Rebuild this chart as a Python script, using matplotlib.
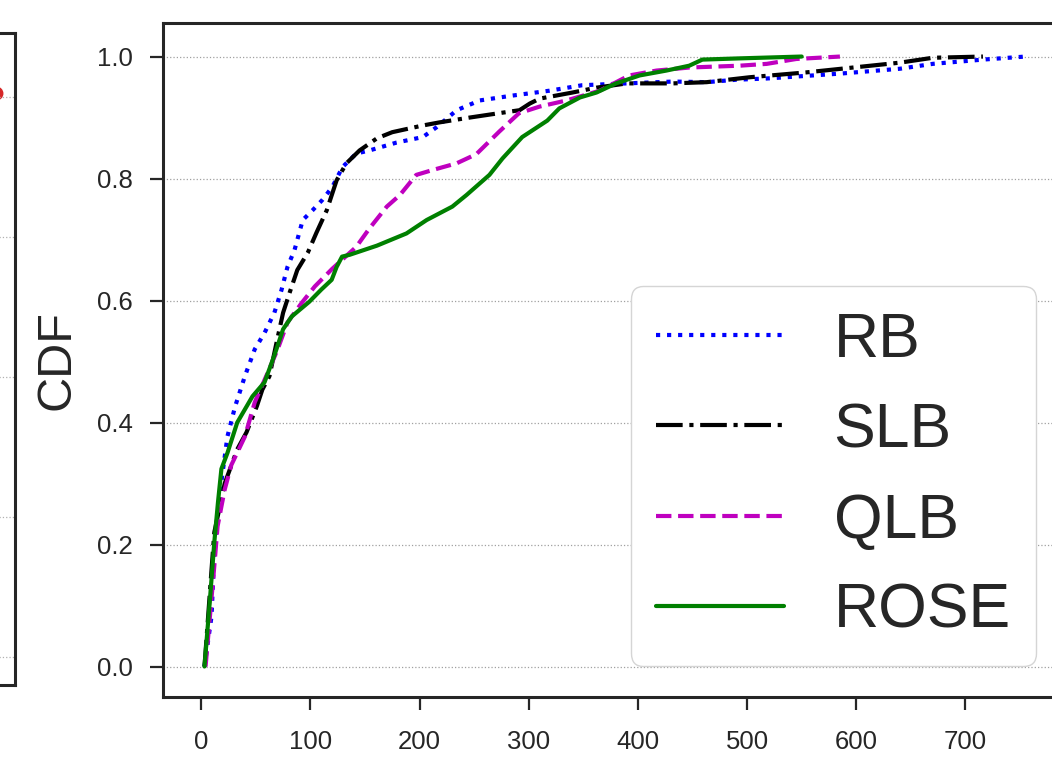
import matplotlib
matplotlib.use("Agg")
import matplotlib.pyplot as plt

plt.rcParams['font.family'] = ['Liberation Sans', 'DejaVu Sans']
plt.rcParams['lines.solid_capstyle'] = 'round'

# ---- data ----
rb_x = [3, 9.5, 12, 19, 24, 31, 40, 49, 58, 67, 73.5, 79, 85.5, 93, 102, 111, 120, 129.5,
        142, 154, 179, 203, 215.5, 234, 255, 285, 319, 349, 390, 432, 463, 490, 518, 585,
        640, 670, 716, 755]
rb_y = [0, 0.083, 0.19, 0.31, 0.377, 0.426, 0.476, 0.52, 0.547, 0.58, 0.617, 0.655, 0.683,
        0.732, 0.748, 0.765, 0.786, 0.819, 0.841, 0.846, 0.859, 0.868, 0.884, 0.912, 0.928,
        0.936, 0.944, 0.953, 0.956, 0.959, 0.958, 0.962, 0.964, 0.972, 0.98, 0.988, 0.995, 1.0]

slb_x = [3, 9.5, 12, 21.5, 33, 41.5, 51, 56, 62.5, 69, 75, 81, 88, 97.5, 105.5, 115, 124,
         133, 145, 161, 175, 203, 218, 246, 276, 291.5, 301, 310, 340, 362, 390, 432, 463,
         502, 554, 597, 640, 670, 716]
slb_y = [0, 0.16, 0.22, 0.30, 0.356, 0.384, 0.427, 0.454, 0.476, 0.531, 0.58, 0.613, 0.65,
         0.678, 0.711, 0.748, 0.797, 0.825, 0.846, 0.866, 0.876, 0.887, 0.892, 0.9, 0.908,
         0.912, 0.923, 0.931, 0.941, 0.949, 0.956, 0.956, 0.958, 0.966, 0.974, 0.982, 0.99,
         0.998, 1.0]

qlb_x = [4, 12, 15, 21.5, 27.5, 40, 49, 61, 70, 79, 92, 104, 120, 142, 154, 170, 182, 197,
         212, 234, 252, 273, 291, 310, 334.5, 365, 392, 417, 447, 493, 518, 545, 585]
qlb_y = [0, 0.165, 0.23, 0.29, 0.33, 0.377, 0.433, 0.482, 0.52, 0.564, 0.596, 0.623, 0.652,
         0.688, 0.718, 0.754, 0.773, 0.806, 0.814, 0.825, 0.84, 0.877, 0.907, 0.918, 0.928,
         0.944, 0.969, 0.977, 0.982, 0.985, 0.988, 0.996, 1.0]

rose_x = [3, 8, 12, 15.4, 18.5, 24, 33, 47, 58, 67, 75, 83, 99, 110, 119.5, 124, 129, 136,
          161, 188, 206.5, 230, 243, 264, 276, 294, 317, 328, 347, 362, 380, 401.5, 426, 447,
          459, 493, 550]
rose_y = [0, 0.11, 0.204, 0.27, 0.324, 0.35, 0.40, 0.443, 0.466, 0.51, 0.553, 0.574, 0.598,
          0.618, 0.634, 0.655, 0.672, 0.675, 0.69, 0.71, 0.732, 0.754, 0.773, 0.806, 0.833,
          0.868, 0.895, 0.915, 0.933, 0.941, 0.956, 0.969, 0.977, 0.985, 0.995, 0.997, 1.0]

labels = ['RB', 'SLB', 'QLB', 'ROSE']
colors = ['blue', 'black', 'm', 'green']
styles = [':', '-.', '--', '-']

x_ticks = [0, 100, 200, 300, 400, 500, 600, 700]
y_ticks = [0.0, 0.2, 0.4, 0.6, 0.8, 1.0]

# fragment of neighbouring panel (cropped at left edge)
left_grid = [0, 1, 2, 3, 4]
left_dot_x = [296]
left_dot_y = [4.03]

W, H = 1052, 758
fig = plt.figure(figsize=(W / 100, H / 100), dpi=100)
fig.patch.set_facecolor('white')

TXT = '#262626'

# ---- left fragment panel ----
axl = fig.add_axes([-0.285, (H - 685) / H, 0.285 + 15 / W, (685 - 33) / H])
axl.set_xlim(0, 315)
axl.set_ylim(-0.2, 4.457)
axl.set_yticks(left_grid)
axl.yaxis.grid(True, ls=':', color='#b0b0b0', lw=0.9)
axl.set_xticks([])
axl.tick_params(left=False, labelleft=False)
axl.plot(left_dot_x, left_dot_y, 'o', color='#d62728', ms=9, clip_on=False, zorder=1)
for s in axl.spines.values():
    s.set_linewidth(2.2)
    s.set_color(TXT)

# ---- main panel ----
ax = fig.add_axes([163 / W, (H - 697) / H, (1067 - 163) / W, (697 - 23) / H])
series = [(rb_x, rb_y), (slb_x, slb_y), (qlb_x, qlb_y), (rose_x, rose_y)]
for (xs, ys), lab, c, st in zip(series, labels, colors, styles):
    ax.plot(xs, ys, st, color=c, lw=3, label=lab)

ax.set_xlim(-35, 793)
ax.set_ylim(-0.05, 1.055)
ax.set_xticks(x_ticks)
ax.set_xticklabels([str(v) for v in x_ticks])
ax.set_yticks(y_ticks)
ax.set_yticklabels([f'{v:.1f}' for v in y_ticks])
ax.yaxis.grid(True, ls=':', color='#a0a0a0', lw=0.9)
ax.set_axisbelow(True)

ax.tick_params(axis='both', direction='out', length=9.5, width=1.6, colors=TXT,
               labelsize=18.5)
ax.tick_params(axis='y', pad=12.5)
ax.tick_params(axis='x', pad=14)
for s in ax.spines.values():
    s.set_linewidth(2.2)
    s.set_color(TXT)

ax.set_ylabel('CDF', fontsize=35, color=TXT, labelpad=12)

leg = ax.legend(loc='lower right', fontsize=45, framealpha=1, edgecolor='#d5d5d5',
                fancybox=True, handlelength=2.05)
for t in leg.get_texts():
    t.set_color(TXT)

fig.savefig('out.png', dpi=100, facecolor='white')
